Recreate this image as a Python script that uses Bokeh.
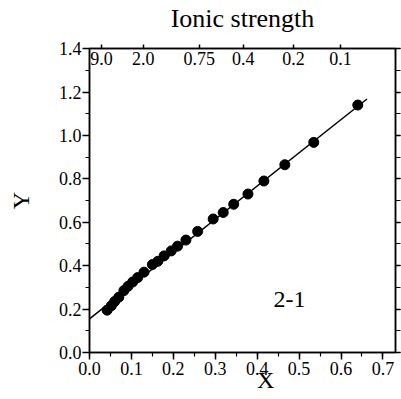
from bokeh.plotting import figure
from bokeh.models import (Range1d, LinearAxis, SingleIntervalTicker, FixedTicker,
                          PrintfTickFormatter, Label, ColumnDataSource, CustomLabelingPolicy)
from bokeh.core.properties import value
from bokeh.embed import file_html
from bokeh.resources import INLINE

# data
x_vals = [0.042, 0.052, 0.060, 0.070, 0.082, 0.092, 0.103, 0.115, 0.130, 0.150,
          0.163, 0.178, 0.195, 0.210, 0.230, 0.258, 0.295, 0.319, 0.344, 0.378,
          0.416, 0.466, 0.535, 0.640]
y_vals = [0.195, 0.215, 0.235, 0.255, 0.285, 0.305, 0.325, 0.345, 0.370, 0.405,
          0.420, 0.445, 0.468, 0.490, 0.518, 0.558, 0.615, 0.645, 0.683, 0.730,
          0.790, 0.865, 0.968, 1.140]
fit_x = [0.0, 0.662]
fit_y = [0.155, 1.168]
ionic_labels = ["9.0", "2.0", "0.75", "0.4", "0.2", "0.1"]
ionic_x = [0.0286, 0.128, 0.262, 0.367, 0.4865, 0.599]
panel_label = "2-1"
x_title_pos = 0.42

FONT = "Liberation Serif"

p = figure(width=401, height=399, output_backend="svg", toolbar_location=None,
           x_range=Range1d(0, 0.73), y_range=Range1d(0, 1.4005),
           x_axis_location=None, y_axis_location=None,
           min_border_left=89, min_border_right=6, min_border_top=46, min_border_bottom=47)
p.xgrid.visible = False
p.ygrid.visible = False
p.outline_line_color = "black"
p.outline_line_width = 1.5
p.background_fill_color = "white"
p.border_fill_color = "white"

def style(ax):
    ax.axis_line_color = "black"
    ax.axis_line_width = 1.5
    ax.major_tick_line_color = "black"
    ax.minor_tick_line_color = "black"
    ax.major_tick_line_width = 1.5
    ax.minor_tick_line_width = 1.2
    ax.major_tick_in = 0
    ax.minor_tick_in = 0
    ax.major_label_text_font = FONT
    ax.major_label_text_font_size = "18px"
    ax.major_label_text_color = "black"
    ax.axis_label_text_font = FONT
    ax.axis_label_text_font_style = "normal"
    ax.axis_label_text_color = "black"

NO_LABELS_JS = "return new indices.constructor(indices.size)"

bottom = LinearAxis(ticker=SingleIntervalTicker(interval=0.1, num_minor_ticks=2),
                    formatter=PrintfTickFormatter(format="%.1f"))
style(bottom)
bottom.major_tick_out = 7
bottom.minor_tick_out = 4
bottom.major_label_standoff = 2
p.add_layout(bottom, "below")

# second bottom "axis" carrying only the X title, placed under the 0.4 tick label
xtitle = LinearAxis(ticker=FixedTicker(ticks=[x_title_pos], minor_ticks=[]),
                    major_label_overrides={x_title_pos: "X"})
style(xtitle)
xtitle.axis_line_color = None
xtitle.major_tick_line_color = None
xtitle.minor_tick_line_color = None
xtitle.major_tick_out = 0
xtitle.minor_tick_out = 0
xtitle.major_label_text_font_size = "24px"
xtitle.major_label_standoff = -11
p.add_layout(xtitle, "below")

left = LinearAxis(ticker=SingleIntervalTicker(interval=0.2, num_minor_ticks=2),
                  formatter=PrintfTickFormatter(format="%.1f"),
                  axis_label="Y")
style(left)
left.major_tick_out = 7
left.minor_tick_out = 4
left.major_label_standoff = 1
left.axis_label_text_font_size = "24px"
left.axis_label_standoff = 22
p.add_layout(left, "left")

right = LinearAxis(ticker=SingleIntervalTicker(interval=0.2, num_minor_ticks=2),
                   major_label_policy=CustomLabelingPolicy(code=NO_LABELS_JS))
style(right)
right.major_tick_out = 5
right.minor_tick_out = 5
right.major_label_text_font_size = "0px"
right.major_label_standoff = 0
p.add_layout(right, "right")

top = LinearAxis(ticker=FixedTicker(ticks=ionic_x, minor_ticks=[]), axis_label="Ionic strength",
                 major_label_policy=CustomLabelingPolicy(code=NO_LABELS_JS))
style(top)
top.major_tick_out = 4
top.minor_tick_out = 0
top.major_label_text_font_size = "0px"
top.major_label_standoff = 0
top.axis_label_text_font_size = "26px"
top.axis_label_standoff = 12
p.add_layout(top, "above")

# ionic strength labels drawn inside the frame under the top axis
src_top = ColumnDataSource(dict(x=ionic_x, y=[1.4 - 0.014] * len(ionic_x), t=ionic_labels))
p.text(x="x", y="y", text="t", source=src_top, text_font=value(FONT),
       text_font_size="18px", text_align="center", text_baseline="top", text_color="black")

# fit line and points
p.line(fit_x, fit_y, line_color="black", line_width=1.5)
p.scatter(x_vals, y_vals, size=10, marker="circle", fill_color="black", line_color="black")

p.add_layout(Label(x=0.477, y=0.245, text=panel_label, text_font=FONT, text_font_size="24px",
                   text_align="center", text_baseline="middle", text_color="black"))

open("out.html", "w").write(file_html(p, INLINE))
